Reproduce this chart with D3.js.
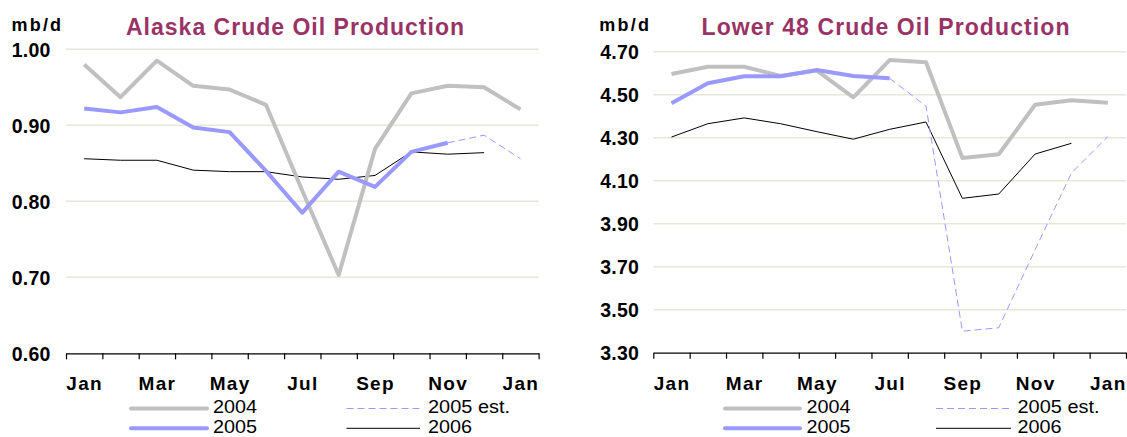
<!DOCTYPE html>
<html>
<head>
<meta charset="utf-8">
<script src="https://cdn.jsdelivr.net/npm/d3@7"></script>
<style>
  html, body { margin: 0; padding: 0; background: #ffffff; }
  svg { display: block; font-family: "Liberation Sans", Arial, sans-serif; }
</style>
</head>
<body>
<svg id="chart" width="1127" height="437"></svg>
<script>
// ---------- data ----------
const categories = ["Jan","Feb","Mar","Apr","May","Jun","Jul","Aug","Sep","Oct","Nov","Dec","Jan"];
const seriesNames = ["2004", "2005 est.", "2005", "2006"];

const alaska2004    = [0.980, 0.937, 0.985, 0.952, 0.947, 0.927, 0.814, 0.703, 0.869, 0.942, 0.952, 0.950, 0.921];
const alaska2005    = [0.922, 0.917, 0.924, 0.897, 0.891, 0.840, 0.785, 0.839, 0.819, 0.865, 0.877, null, null];
const alaska2005est = [null, null, null, null, null, null, null, null, null, null, 0.877, 0.887, 0.856];
const alaska2006    = [0.856, 0.854, 0.854, 0.841, 0.839, 0.839, 0.832, 0.829, 0.834, 0.865, 0.862, 0.864, null];
const alaskaTicks   = [0.60, 0.70, 0.80, 0.90, 1.00];

const lower2004     = [4.596, 4.630, 4.630, 4.587, 4.612, 4.488, 4.661, 4.651, 4.206, 4.223, 4.453, 4.474, 4.463];
const lower2005     = [4.460, 4.553, 4.586, 4.586, 4.615, 4.587, 4.576, null, null, null, null, null, null];
const lower2005est  = [null, null, null, null, null, null, 4.576, 4.447, 3.400, 3.416, 3.779, 4.136, 4.305];
const lower2006     = [4.303, 4.365, 4.392, 4.365, 4.328, 4.293, 4.339, 4.373, 4.018, 4.038, 4.224, 4.274, null];
const lowerTicks    = [3.30, 3.50, 3.70, 3.90, 4.10, 4.30, 4.50, 4.70];

// ---------- styles ----------
const styles = {
  "2004":      { color: "#c0c0c0", width: 4, dash: null },
  "2005":      { color: "#9999ff", width: 4, dash: null },
  "2005 est.": { color: "#9999ff", width: 1, dash: "7,4" },
  "2006":      { color: "#000000", width: 1, dash: null }
};
const legendTextWidth = { "2004": 44, "2005": 44, "2006": 44, "2005 est.": 82 };
const drawOrder = ["2006", "2004", "2005 est.", "2005"];

const svg = d3.select("#chart");

function drawPanel(cfg) {
  const g = svg.append("g");
  const xEdge = d3.scaleLinear().domain([0, categories.length]).range([cfg.x0, cfg.x1]);
  const y = d3.scaleLinear().domain(cfg.domain).range([cfg.yBottom, cfg.yTop]);

  // gridlines
  g.append("g").selectAll("line")
    .data(cfg.ticks.slice(1))
    .join("line")
    .attr("x1", cfg.x0).attr("x2", cfg.x1)
    .attr("y1", d => y(d)).attr("y2", d => y(d))
    .attr("stroke", "#e8e8da").attr("stroke-width", 1.5);

  // y labels
  const yAxis = d3.axisLeft(y).tickValues(cfg.ticks).tickFormat(d3.format(".2f")).tickSize(0).tickPadding(0);
  const ya = g.append("g").attr("transform", `translate(${cfg.yLabelX},0)`).call(yAxis);
  ya.select(".domain").remove();
  ya.selectAll("text")
    .attr("font-family", "Liberation Sans, Arial, sans-serif")
    .attr("font-size", 19.5).attr("font-weight", "bold").attr("fill", "#000")
    .attr("letter-spacing", "0.2px")
    .attr("dy", "0.36em");

  // x axis line + tick marks at category boundaries
  const xAxis = d3.axisBottom(xEdge).tickValues(d3.range(categories.length + 1)).tickFormat("").tickSize(6).tickSizeOuter(0);
  const xa = g.append("g").attr("transform", `translate(0,${cfg.yBottom})`).call(xAxis);
  xa.select(".domain").attr("stroke", "#000").attr("stroke-width", 1.3);
  xa.selectAll(".tick line").attr("stroke", "#000").attr("stroke-width", 1.2);

  // x labels
  const labelIdx = d3.range(0, categories.length, 2);
  const xl = d3.axisBottom(xEdge).tickValues(labelIdx.map(i => i + 0.5))
    .tickFormat(v => categories[Math.floor(v)]).tickSize(0).tickPadding(0);
  const xla = g.append("g").attr("transform", `translate(0,${cfg.yBottom})`).call(xl);
  xla.select(".domain").remove();
  xla.selectAll("text")
    .attr("font-family", "Liberation Sans, Arial, sans-serif")
    .attr("font-size", 19).attr("font-weight", "bold").attr("fill", "#000")
    .attr("letter-spacing", "1.3px")
    .attr("dy", null)
    .attr("y", 37);

  // lines
  const line = d3.line()
    .defined(d => d.v != null)
    .x(d => xEdge(d.i + 0.5))
    .y(d => y(d.v));
  drawOrder.forEach(name => {
    const vals = cfg.series[name];
    const st = styles[name];
    g.append("path")
      .datum(vals.map((v, i) => ({ i, v })))
      .attr("d", line)
      .attr("fill", "none")
      .attr("stroke", st.color)
      .attr("stroke-width", st.width)
      .attr("stroke-dasharray", st.dash)
      .attr("stroke-linejoin", "round");
  });

  // title + unit
  svg.append("text")
    .attr("x", cfg.unitX).attr("y", 30.5)
    .attr("font-size", 18).attr("font-weight", "bold").attr("fill", "#000")
    .attr("letter-spacing", "2.2px")
    .text("mb/d");
  svg.append("text")
    .attr("x", cfg.titleX).attr("y", 35)
    .attr("font-size", 23).attr("font-weight", "bold").attr("fill", "#993366")
    .attr("textLength", cfg.titleW).attr("lengthAdjust", "spacing")
    .text(cfg.title);

  // legend
  const rows = [
    { name: "2004", col: 0, row: 0 },
    { name: "2005 est.", col: 1, row: 0 },
    { name: "2005", col: 0, row: 1 },
    { name: "2006", col: 1, row: 1 }
  ];
  rows.forEach(r => {
    const st = styles[r.name];
    const lx = cfg.legend[r.col];
    const ly = 408.5 + r.row * 19.8;
    svg.append("line")
      .attr("x1", lx.s0).attr("x2", lx.s1)
      .attr("y1", ly).attr("y2", ly)
      .attr("stroke", st.color).attr("stroke-width", st.width)
      .attr("stroke-dasharray", st.dash)
      .attr("stroke-linecap", st.width > 2 ? "round" : "butt");
    svg.append("text")
      .attr("x", lx.t).attr("y", ly + 4.8)
      .attr("font-size", 17.5).attr("fill", "#000")
      .attr("textLength", legendTextWidth[r.name]).attr("lengthAdjust", "spacingAndGlyphs")
      .text(r.name);
  });
}

drawPanel({
  title: "Alaska Crude Oil Production",
  titleX: 126, titleW: 338,
  unitX: 11.5,
  x0: 66, x1: 538.6,
  yTop: 49.3, yBottom: 353.3,
  domain: [0.60, 1.00],
  ticks: alaskaTicks,
  yLabelX: 50.5,
  series: { "2004": alaska2004, "2005": alaska2005, "2005 est.": alaska2005est, "2006": alaska2006 },
  legend: [ { s0: 131, s1: 207, t: 213 }, { s0: 346.5, s1: 420, t: 428 } ]
});

drawPanel({
  title: "Lower 48 Crude Oil Production",
  titleX: 701.5, titleW: 368,
  unitX: 599.3,
  x0: 653.3, x1: 1126,
  yTop: 51.7, yBottom: 352.7,
  domain: [3.30, 4.70],
  ticks: lowerTicks,
  yLabelX: 639,
  series: { "2004": lower2004, "2005": lower2005, "2005 est.": lower2005est, "2006": lower2006 },
  legend: [ { s0: 725, s1: 800, t: 806.5 }, { s0: 936, s1: 1011, t: 1017.5 } ]
});
</script>
</body>
</html>
